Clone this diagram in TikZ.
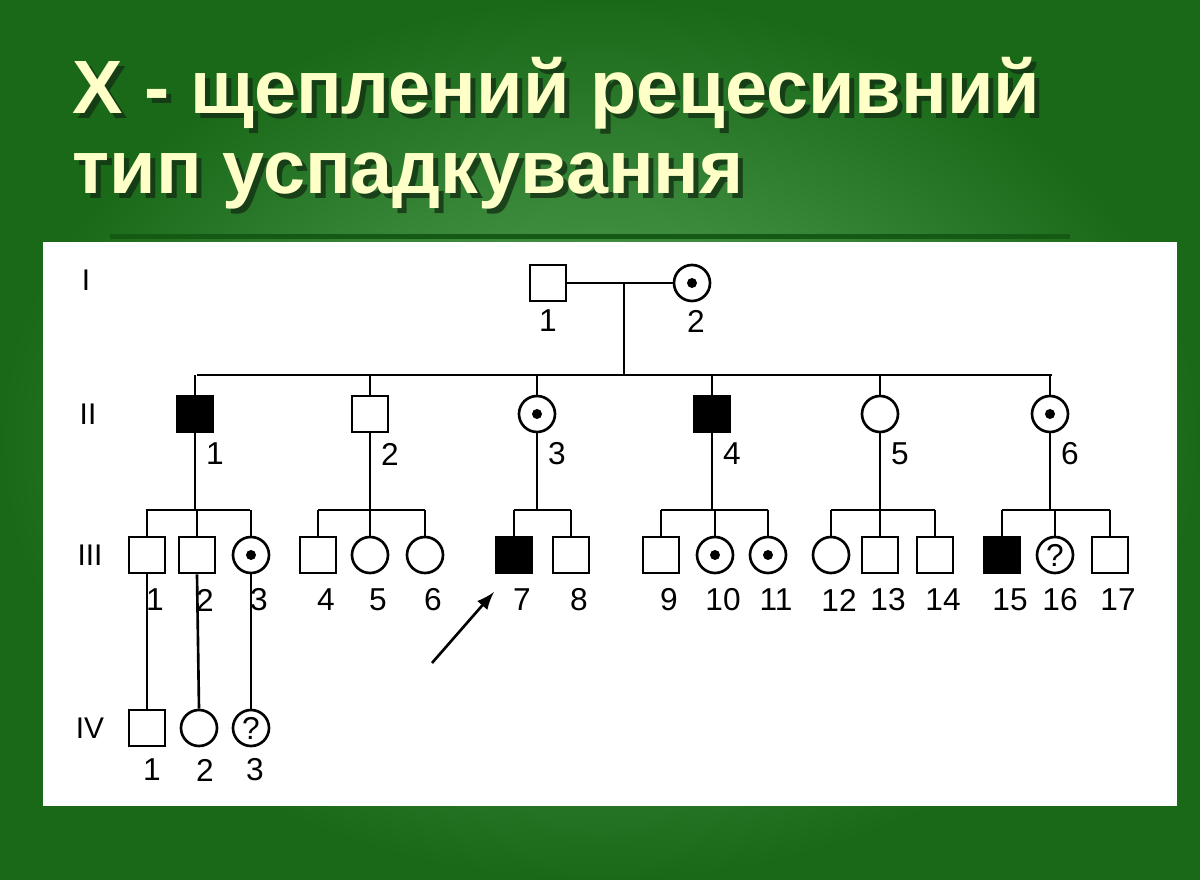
\documentclass[tikz,border=0pt]{standalone}
\usepackage{fontspec}
\setmainfont{Liberation Sans}
\definecolor{bgin}{RGB}{95,170,95}
\definecolor{bgout}{RGB}{25,105,25}
\definecolor{bar}{RGB}{20,90,20}
\definecolor{ttlc}{RGB}{255,255,200}
\definecolor{shd}{RGB}{20,50,20}
\begin{document}
\begin{tikzpicture}[x=0.01cm,y=-0.01cm,
 ind/.style={draw=black,line width=0.75pt,inner sep=0pt,minimum size=0.36cm},
 male/.style={ind,rectangle},
 fem/.style={ind,circle},
 aff/.style={male,fill=black},
 car/.style={fem,path picture={\fill (path picture bounding box.center) circle (0.05cm);}},
 unk/.style={fem,font=\fontsize{9pt}{9pt}\selectfont},
 num/.style={font=\fontsize{9pt}{9pt}\selectfont},
 gen/.style={font=\fontsize{8.5pt}{8.5pt}\selectfont},
 ln/.style={line width=0.75pt},
 ttl/.style={font=\bfseries\fontsize{21.5pt}{22.5pt}\selectfont,anchor=north west,inner sep=0pt,align=left}]
\useasboundingbox (0,0) rectangle (1200,880);
\shade[inner color=bgin,outer color=bgout] (0,0) rectangle (1200,880);
\fill[bar] (110,234) rectangle (1070,239);
\node[ttl,text=shd,opacity=0.8] at (77,62) {X - щеплений рецесивний\\тип успадкування};
\node[ttl,text=ttlc] (t1) at (72,57) {X - щеплений рецесивний\\тип успадкування};
\fill[white] (43,242) rectangle (1177,806);
% generation labels
\node[gen] (gI) at (86,280) {I};
\node[gen] (gII) at (88,414) {II};
\node[gen] (gIII) at (90,555) {III};
\node[gen] (gIV) at (90,728) {IV};
% gen I
\node[male] (a1) at (548,283) {};
\node[car] (a2) at (692,283) {};
\node[num] at (548,321) {1};
\node[num] at (696,321) {2};
\draw[ln] (a1) -- (a2);
\coordinate (m1) at (624,283);
\coordinate (s1) at (624,375);
\draw[ln] (m1) -- (s1);
\coordinate (sl) at (197,375); \coordinate (sr) at (1052,375);
\draw[ln] (sl) -- (sr);
% gen II
\foreach \n/\x/\st in {1/195/aff,2/370/male,3/537/car,4/712/aff,5/880/fem,6/1050/car}{
 \node[\st] (b\n) at (\x,414) {};
 \node[num] at (\x+20,454) {\n};
 \draw[ln] (b\n.north) -- (\x,375);
}
% gen III sibling lines
\foreach \p/\l/\r in {1/146/250,2/318/425,3/514/571,4/661/768,5/831/935,6/1002/1110}{
 \coordinate (c\p) at (b\p|-0,510);
 \draw[ln] (b\p.south) -- (c\p);
 \draw[ln] (\l,510) -- (\r,510);
}
\foreach \n/\x/\st in {1/147/male,2/197/male,3/251/car,4/318/male,5/370/fem,6/425/fem,7/514/aff,8/571/male,9/661/male,10/715/car,11/768/car,12/831/fem,13/880/male,14/935/male,15/1002/aff,17/1110/male}{
 \node[\st] (d\n) at (\x,555) {};
 \node[num] at (\x+8,600) {\n};
 \draw[ln] (d\n.north) -- (\x,510);
}
\node[unk] (d16) at (1055,555) {?};
\node[num] at (1060,600) {16};
\draw[ln] (d16.north) -- (1055,510);
\coordinate (ar) at (432,663);
\draw[ln,-latex] (ar) -- (494,592);
% gen IV
\node[male] (e1) at (147,728) {};
\node[fem] (e2) at (199,728) {};
\node[unk] (e3) at (251,728) {?};
\node[num] at (152,770) {1};
\node[num] at (205,770) {2};
\node[num] at (255,770) {3};
\draw[ln] (d1.south) -- (e1.north);
\draw[ln] (d2.south) -- (e2.north);
\draw[ln] (d3.south) -- (e3.north);
\end{tikzpicture}
\end{document}
